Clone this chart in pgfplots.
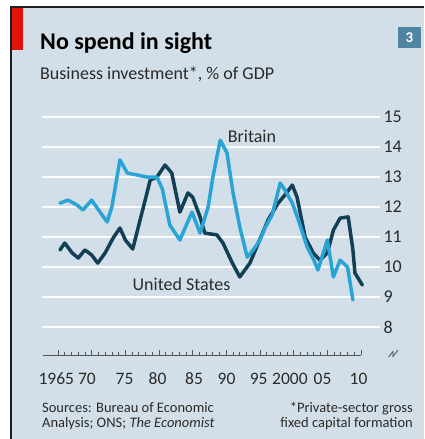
\documentclass[border=0pt]{standalone}
\usepackage{fontspec}
\setmainfont{Carlito}
\usepackage{pgfplots}
\pgfplotsset{compat=1.18}
\definecolor{bg}{HTML}{D3DFE8}
\definecolor{gridc}{HTML}{FAFCFD}
\definecolor{frame}{HTML}{1E1E1E}
\definecolor{ecored}{HTML}{E3120B}
\definecolor{boxblue}{HTML}{4F84A3}
\definecolor{txt}{HTML}{2A2A2A}
\definecolor{brit}{HTML}{2AA3D5}
\definecolor{usa}{HTML}{123F55}
\definecolor{tickc}{HTML}{555555}
\tikzset{ylabnode/.style={anchor=base, text=txt, inner sep=0, font=\fontsize{17.5}{20}\selectfont, yshift=-30pt}}
\begin{document}
\begin{tikzpicture}[x=1pt,y=1pt]
\path[use as bounding box] (0,0) rectangle (424,439);
\fill[white] (0,0) rectangle (424,439);
\fill[bg] (11,0) rectangle (424,431);
\fill[frame] (10,0) rectangle (11.5,432.5);
\fill[frame] (10,431) rectangle (424,432.5);
\fill[ecored] (11.5,389) rectangle (23,431);
\draw[gridc, line width=2.4pt] (42,112) -- (380,112);
\draw[gridc, line width=2.4pt] (42,142) -- (380,142);
\draw[gridc, line width=2.4pt] (42,172) -- (380,172);
\draw[gridc, line width=2.4pt] (42,202) -- (380,202);
\draw[gridc, line width=2.4pt] (42,232) -- (380,232);
\draw[gridc, line width=2.4pt] (42,262) -- (380,262);
\draw[gridc, line width=2.4pt] (42,292) -- (380,292);
\draw[gridc, line width=2.4pt] (42,322) -- (380,322);
\node[anchor=base west, inner sep=0, text=black] at (40,389) {\fontsize{24}{28}\selectfont\bfseries No spend in sight};
\node[anchor=base west, inner sep=0, text=txt] at (40,359) {\fontsize{18}{20}\selectfont Business investment*, \% of GDP};
\fill[boxblue] (398,391) rectangle (421,412);
\node[text=white, inner sep=0] at (409.5,401.5) {\fontsize{15}{16}\selectfont\bfseries 3};
\begin{axis}[
  at={(42pt,84pt)}, anchor=south west,
  scale only axis, width=338pt, height=255pt,
  xmin=1962.624, xmax=2012.822, ymin=7.067, ymax=15.567,
  axis line style={draw=none},
  /pgf/number format/assume math mode=true,
  ytick={8,...,15}, ytick pos=right, ytick style={draw=none},
  yticklabel style={font=\fontsize{18}{20}\selectfont, text=txt, anchor=west, xshift=0pt},
  xtick={1965,1970,...,2010}, minor xtick={1965,...,2010}, xtick pos=bottom,
  xticklabels={},
  tick align=inside,
  major tick length=4.5pt, minor tick length=3pt,
  xtick style={color=tickc, line width=0.7pt},
  clip=false,
]
\draw[tickc, line width=0.8pt] (axis cs:1962.75,7.067) -- (axis cs:2010,7.067);
\addplot[usa, line width=3.5pt, line join=round, line cap=round] coordinates {
(1965.3,10.57) (1966,10.8) (1967.1,10.47) (1968,10.3) (1969,10.57) (1970,10.4)
(1970.9,10.13) (1972,10.47) (1973.2,10.97) (1974.2,11.3) (1975,10.9) (1976.1,10.6)
(1978.7,12.9) (1979.7,13.0) (1980.9,13.4) (1981.9,13.13) (1983.1,11.83) (1984.3,12.47)
(1985,12.33) (1986.1,11.67) (1986.8,11.13) (1988.6,11.07) (1989.5,10.8) (1990.9,10.13)
(1992,9.67) (1993.5,10.13) (1996.2,11.57) (1997.7,12.13) (1998.7,12.4) (1999.8,12.73)
(2000.5,12.33) (2001.7,11.0) (2002.9,10.47) (2003.9,10.23) (2005,10.47) (2005.9,11.23)
(2006.9,11.63) (2008.1,11.67) (2008.8,10.57) (2009.1,9.8) (2010.2,9.4)
};
\addplot[brit, line width=3.5pt, line join=round, line cap=round] coordinates {
(1965.3,12.13) (1966.5,12.23) (1967.8,12.07) (1968.7,11.9) (1970,12.23) (1970.8,11.97)
(1972.3,11.5) (1973,12.0) (1974.2,13.57) (1975.3,13.13) (1976.7,13.07) (1978.2,13.0)
(1979.7,13.0) (1980.5,12.6) (1981.6,11.4) (1983.1,10.9) (1984.9,11.83) (1986.1,11.13)
(1987.3,12.0) (1988,13.0) (1989.1,14.23) (1990.1,13.8) (1991,12.47) (1992,11.33)
(1993.1,10.33) (1994,10.57) (1995,10.9) (1995.8,11.33) (1996.8,11.73) (1998,12.8)
(1998.7,12.57) (1999.8,12.13) (2000.7,11.57) (2002,10.67) (2003,10.23) (2003.6,9.9)
(2005,10.9) (2005.9,9.67) (2006.9,10.23) (2008,10.0) (2008.8,8.9)
};
\node[text=txt, font=\fontsize{18}{20}\selectfont] at (axis cs:1993.8,14.37) {Britain};
\node[text=txt, font=\fontsize{18}{20}\selectfont] at (axis cs:1983.35,9.43) {United States};
\node[ylabnode] at (axis cs:1964.75,7.067) {1965};
\node[ylabnode] at (axis cs:1969.3,7.067) {70};
\node[ylabnode] at (axis cs:1974.88,7.067) {75};
\node[ylabnode] at (axis cs:1979.78,7.067) {80};
\node[ylabnode] at (axis cs:1985.2,7.067) {85};
\node[ylabnode] at (axis cs:1990.03,7.067) {90};
\node[ylabnode] at (axis cs:1994.8,7.067) {95};
\node[ylabnode] at (axis cs:1999.45,7.067) {2000};
\node[ylabnode] at (axis cs:2004.3,7.067) {05};
\node[ylabnode] at (axis cs:2009.63,7.067) {10};
\end{axis}
\draw[tickc, line width=0.9pt] (388.5,82) -- (393,87.5) -- (393,82.5) -- (398,89);
\node[anchor=base west, inner sep=0, text=txt] at (42,26) {\fontsize{14.5}{16}\selectfont Sources: Bureau of Economic};
\node[anchor=base west, inner sep=0, text=txt] at (42,12) {\fontsize{14.5}{16}\selectfont Analysis; ONS; \textit{The Economist}};
\node[anchor=base east, inner sep=0, text=txt] at (413,26) {\fontsize{14.5}{16}\selectfont *Private-sector gross};
\node[anchor=base east, inner sep=0, text=txt] at (413,12) {\fontsize{14.5}{16}\selectfont fixed capital formation};
\end{tikzpicture}
\end{document}
